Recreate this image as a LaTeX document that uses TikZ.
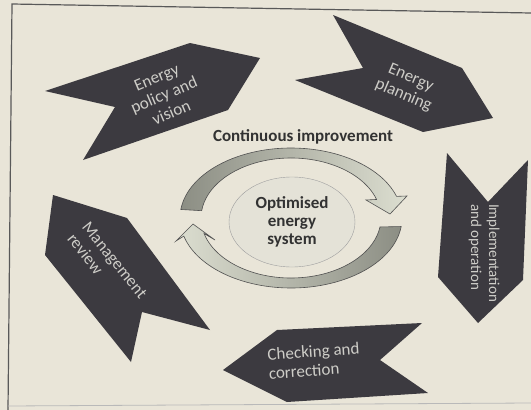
\documentclass[tikz,border=0pt]{standalone}
\usepackage{fontspec}
\setmainfont{Carlito}
\usetikzlibrary{shapes.geometric}
\definecolor{paper}{RGB}{233,229,216}
\definecolor{slate}{RGB}{60,58,64}
\definecolor{chalk}{RGB}{206,205,200}
\definecolor{ink}{RGB}{50,50,50}
\definecolor{bandlo}{RGB}{140,142,132}
\definecolor{bandhi}{RGB}{220,222,208}
\definecolor{coreface}{RGB}{228,226,215}

\begin{document}
\begin{tikzpicture}[x=1pt,y=-1pt,
  chevron/.style={fill=slate},
  chevlabel/.style={text=chalk,font=\fontsize{17}{19}\selectfont,align=center,inner sep=0pt},
  band/.style={draw=ink!85,line width=0.6pt}]

  \useasboundingbox (0,0) rectangle (531,410);
  \fill[paper] (0,0) rectangle (531,410);
  \draw[gray!70!black,line width=1.2pt] (531,13) -- (12,4) -- (8,410);
  \draw[gray!55,line width=0.8pt] (8,406) -- (531,403);

  \fill[chevron] (45,91) -- (190,43) -- (260,58) -- (228,110) -- (83,160) -- (115,107) -- cycle;
  \fill[chevron] (333,15) -- (462,68) -- (493,118) -- (423,132) -- (295,80) -- (363,68) -- cycle;
  \fill[chevron] (447,153) -- (488,202) -- (528,160) -- (523,280) -- (478,323) -- (438,277) -- cycle;
  \fill[chevron] (223,370) -- (277,330) -- (422,323) -- (380,360) -- (428,393) -- (287,402) -- cycle;
  \fill[chevron] (53,195) -- (127,218) -- (210,330) -- (142,312) -- (131,362) -- (45,255) -- cycle;

  \node[chevlabel,rotate=23] (policy) at (164,95) {Energy\\policy and\\vision};
  \node[chevlabel,rotate=-23] (planning) at (407,87) {Energy\\planning};
  \node[chevlabel,rotate=-90,align=left,anchor=west,font=\fontsize{15}{18}\selectfont] (implement) at (484,204) {Implementation\\and operation};
  \node[chevlabel,rotate=4,align=left,anchor=west] (checking) at (268,364) {Checking and\\correction};
  \node[chevlabel,rotate=-51,align=left,anchor=west] (review) at (78,230) {Management\\review};

  \coordinate (hub) at (291,218);

  \path[band,left color=bandlo,right color=bandhi]
    (hub) ++(-173:111 and 70) arc[start angle=-173,end angle=-18,x radius=111,y radius=70]
    -- (407,196) -- (390,214) -- (366,200)
    -- ([shift={(-18:90 and 60)}]hub) arc[start angle=-18,end angle=-173,x radius=90,y radius=60] -- cycle;
  \path[band,left color=bandhi,right color=bandlo]
    (hub) ++(7:111 and 70) arc[start angle=7,end angle=165,x radius=111,y radius=70]
    -- (176,241) -- (193,224) -- (215,240)
    -- ([shift={(165:90 and 60)}]hub) arc[start angle=165,end angle=8.6,x radius=90,y radius=60] -- cycle;

  \node[ellipse,draw=gray!75,fill=coreface,minimum width=126pt,minimum height=90pt,
        text=ink,font=\bfseries\fontsize{17}{18}\selectfont,align=center] (core) at (292,222) {Optimised\\energy\\system};
  \node[text=ink,font=\bfseries\fontsize{17}{19}\selectfont] (title) at (303,137) {Continuous improvement};

\end{tikzpicture}
\end{document}
